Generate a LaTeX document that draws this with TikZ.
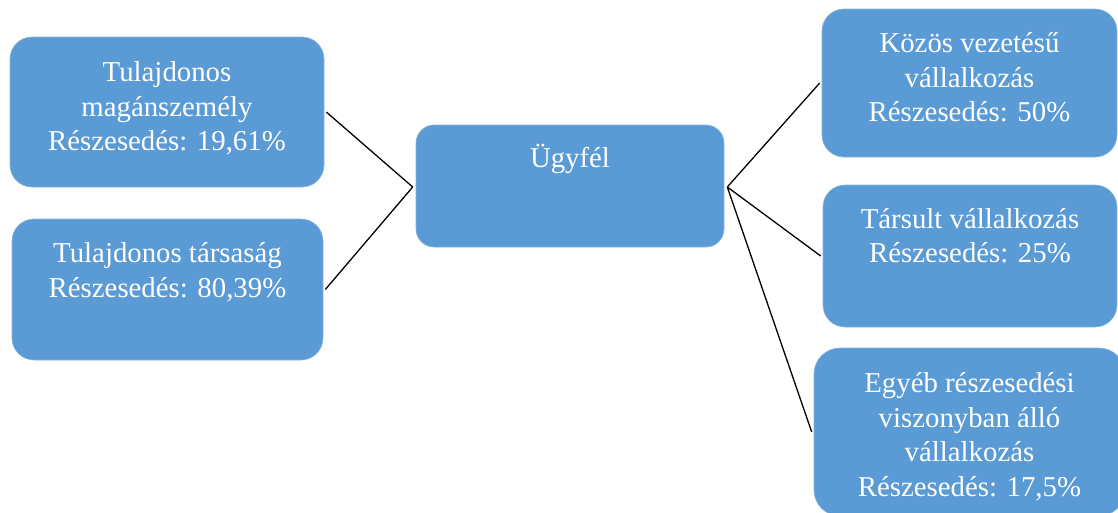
\documentclass[tikz,border=0pt]{standalone}
\usepackage{fontspec}
\setmainfont{Liberation Serif}
\usetikzlibrary{calc}
\definecolor{boxblue}{HTML}{5B9BD5}
\begin{document}
\begin{tikzpicture}[x=1pt,y=-1pt,
  box/.style={rectangle, fill=boxblue, draw=boxblue!75!white, line width=0.6pt, rounded corners=22pt, inner sep=0pt},
  txt/.style={text=white, align=center, inner sep=0pt, anchor=base, font=\fontsize{28.8}{34.5}\selectfont},
  link/.style={draw=black, line width=1.3pt}]
\useasboundingbox (0,0) rectangle (1118,512);
\clip (0,0) rectangle (1118,512);
% boxes
\node[box, minimum width=314pt, minimum height=150pt] (lt) at (167,112) {};
\node[box, minimum width=311pt, minimum height=141pt] (lb) at (167.5,289.5) {};
\node[box, rounded corners=18pt, minimum width=308pt, minimum height=122pt] (c) at (570,186) {};
\node[box, minimum width=295pt, minimum height=148pt] (rt) at (969.5,83) {};
\node[box, minimum width=294pt, minimum height=142pt] (rm) at (970,256) {};
\node[box, rounded corners=26pt, minimum width=311pt, minimum height=168pt] (rb) at (969.5,432) {};
% texts (anchor=base is the last line's baseline)
\node[txt] (ltt) at ($(lt.north)+(0,114)$) {Tulajdonos\\magánszemély\\Részesedés: 19,61\%};
\node[txt] (lbt) at ($(lb.north)+(0,78.5)$) {Tulajdonos társaság\\Részesedés: 80,39\%};
\node[txt] (ct) at ($(c.north)+(0,43)$) {Ügyfél};
\node[txt] (rtt) at ($(rt.north)+(0,113)$) {Közös vezetésű\\vállalkozás\\Részesedés: 50\%};
\node[txt] (rmt) at ($(rm.north)+(0,78)$) {Társult vállalkozás\\Részesedés: 25\%};
\node[txt] (rbt) at ($(rb.north)+(0,148.5)$) {Egyéb részesedési\\viszonyban álló\\vállalkozás\\Részesedés: 17,5\%};
% hubs
\coordinate (hl) at ($(c.west)+(-3,1)$);
\coordinate (hr) at ($(c.east)+(3,1)$);
% connectors
\draw[link] ($(lt.east)+(2,0)$) -- (hl);
\draw[link] ($(lb.east)+(2,0)$) -- (hl);
\draw[link] (hr) -- ($(rt.west)+(-2,0)$);
\draw[link] (hr) -- ($(rm.west)+(-2,0)$);
\draw[link] (hr) -- ($(rb.west)+(-2,0)$);
\end{tikzpicture}
\end{document}
